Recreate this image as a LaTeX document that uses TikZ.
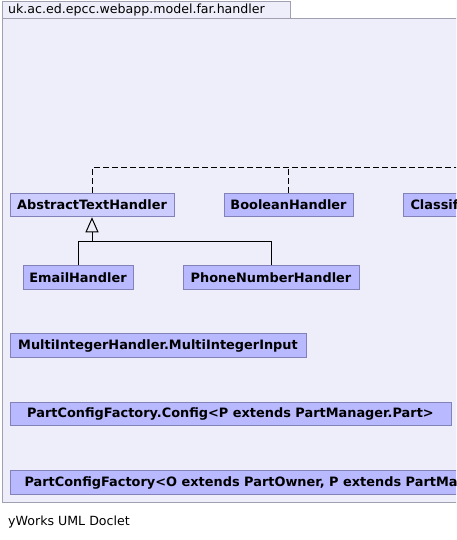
\documentclass[tikz,border=0pt]{standalone}
\usepackage{fontspec}
\setmainfont{DejaVu Sans}
\usetikzlibrary{arrows.meta}
\definecolor{framebg}{RGB}{238,238,250}
\definecolor{frameln}{RGB}{160,160,176}
\definecolor{clsfill}{RGB}{185,185,255}
\definecolor{absfill}{RGB}{204,204,255}
\definecolor{clsln}{RGB}{130,130,185}
\tikzset{
  cls/.style={draw=clsln, fill=clsfill, line width=1pt, inner sep=0pt, minimum height=23.5pt, font=\fontsize{12.9}{15}\selectfont\bfseries},
  abs/.style={cls, fill=absfill},
  frm/.style={draw=frameln, fill=framebg, line width=1pt},
  real/.style={line width=1pt, draw=black},
  impl/.style={line width=1pt, draw=black, dash pattern=on 6pt off 3pt}
}
\begin{document}
\begin{tikzpicture}[x=1pt,y=-1pt]
\useasboundingbox (0,0) rectangle (456,540);
\fill[white] (0,0) rectangle (456,540);
\begin{scope}
\clip (0,0) rectangle (456,540);
% package frame
\draw[frm] (2,2) rectangle (290,19);
\draw[frm] (2,19) rectangle (470,502);
\node[anchor=west, inner sep=0pt, font=\fontsize{12.6}{14}\selectfont] (pkg) at (8,10.5) {uk.ac.ed.epcc.webapp.model.far.handler};

% classes
\node[abs, minimum width=164pt] (ath) at (92,205) {AbstractTextHandler};
\node[cls, minimum width=129pt] (bool) at (288.5,205) {BooleanHandler};
\node[cls, anchor=west, minimum width=180pt, align=left, text width=166pt, inner xsep=7pt] (cls) at (403,205) {ClassificationHandler};
\node[cls, minimum width=110pt] (email) at (78,277.5) {EmailHandler};
\node[cls, minimum width=176pt] (phone) at (271,277.5) {PhoneNumberHandler};
\node[cls, minimum width=296pt] (multi) at (158,345.5) {MultiIntegerHandler.MultiIntegerInput};
\node[cls, minimum width=441pt] (config) at (230.5,414) {PartConfigFactory.Config<P extends PartManager.Part>};
\node[cls, anchor=west, inner xsep=14pt] (factory) at (10,482.5) {PartConfigFactory<O extends PartOwner, P extends PartManager.Part>};

% realization (dashed) to interface off the right edge
\coordinate (iface) at (470,168);
\draw[impl] (ath.north) |- (iface);
\draw[impl] (bool.north) -- (bool.north |- iface);

% generalization
\coordinate (j) at (92,241);
\draw[real] (email.north) |- (j);
\draw[real] (phone.north) |- (j);
\draw[real, -{Triangle[open, length=15pt, width=13pt, line width=1pt]}] (j) -- (ath.south);
\end{scope}

\node[anchor=west, inner sep=0pt, font=\fontsize{12.6}{14}\selectfont] (foot) at (8,522) {yWorks UML Doclet};
\end{tikzpicture}
\end{document}
